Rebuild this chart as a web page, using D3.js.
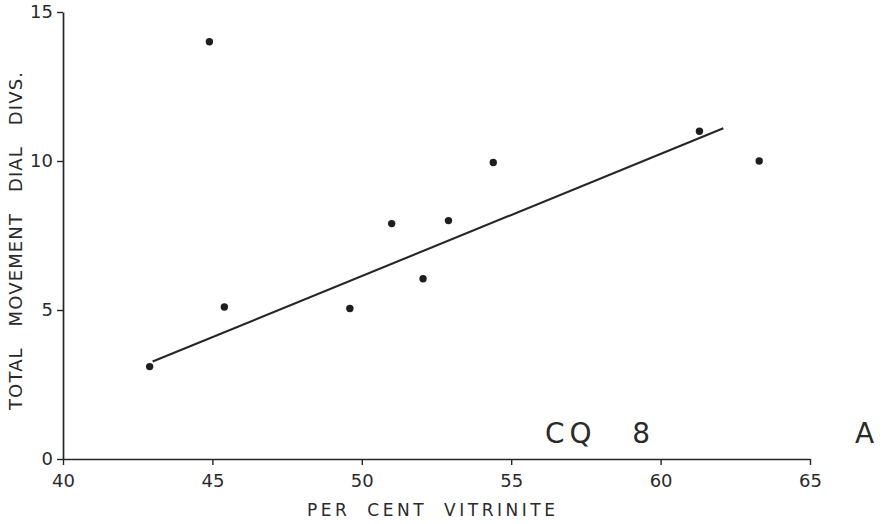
<!DOCTYPE html>
<html>
<head>
<meta charset="utf-8">
<script src="https://cdn.jsdelivr.net/npm/d3@7"></script>
<style>
  html, body { margin: 0; padding: 0; background: #fff; }
  svg { display: block; }
  text { font-family: "DejaVu Sans", "Liberation Sans", sans-serif; fill: #2a2a2a; }
</style>
</head>
<body>
<svg id="chart" width="883" height="524"></svg>
<script>
// Data
const vitrinite = [42.9, 44.9, 45.4, 49.6, 51.0, 52.05, 52.9, 54.4, 61.3, 63.3];
const movement  = [3.1, 14.0, 5.1, 5.05, 7.9, 6.05, 8.0, 9.95, 11.0, 10.0];
const fitLineX  = [43.0, 62.1];
const fitLineY  = [3.27, 11.1];
const xTicks = [40, 45, 50, 55, 60, 65];
const yTicks = [0, 5, 10, 15];
const xTitle = "PER CENT VITRINITE";
const yTitle = "TOTAL MOVEMENT DIAL DIVS.";
const sampleLabel = "CQ 8";
const panelLabel = "A";

const svg = d3.select("#chart");
const x = d3.scaleLinear().domain([40, 65]).range([63, 810]);
const y = d3.scaleLinear().domain([0, 15]).range([459, 12]);
const ink = "#262626";

// Axes
const xAxis = svg.append("g").attr("transform", `translate(0,${y(0)})`)
  .call(d3.axisBottom(x).tickValues(xTicks).tickSize(6).tickSizeOuter(0).tickPadding(9).tickFormat(d3.format("d")));
const yAxis = svg.append("g").attr("transform", `translate(${x(40)},0)`)
  .call(d3.axisLeft(y).tickValues(yTicks).tickSize(6).tickSizeOuter(0).tickPadding(4).tickFormat(d3.format("d")));

[xAxis, yAxis].forEach(g => {
  g.select(".domain").attr("stroke", ink).attr("stroke-width", 1.7);
  g.selectAll(".tick line").attr("stroke", ink).attr("stroke-width", 1.4);
  g.selectAll(".tick text").attr("font-size", 18).attr("fill", "#2a2a2a")
    .style("font-family", "\"DejaVu Sans\", sans-serif");
});

// Regression line
svg.append("path")
  .datum(fitLineX.map((d, i) => [d, fitLineY[i]]))
  .attr("d", d3.line().x(d => x(d[0])).y(d => y(d[1])))
  .attr("stroke", ink).attr("stroke-width", 2.1).attr("fill", "none");

// Points
svg.append("g").selectAll("circle")
  .data(vitrinite.map((d, i) => [d, movement[i]]))
  .join("circle")
  .attr("cx", d => x(d[0])).attr("cy", d => y(d[1]))
  .attr("r", 3.7).attr("fill", "#1e1e1e");

// Axis titles
svg.append("text")
  .attr("x", 307).attr("y", 516)
  .attr("font-size", 17)
  .attr("textLength", 248).attr("lengthAdjust", "spacing")
  .style("word-spacing", "8px")
  .text(xTitle);

svg.append("text")
  .attr("transform", "translate(22,410) rotate(-90)")
  .attr("x", 0).attr("y", 0)
  .attr("font-size", 18)
  .attr("textLength", 338).attr("lengthAdjust", "spacing")
  .style("word-spacing", "14px")
  .text(yTitle);

// Annotations
svg.append("text")
  .attr("x", 545).attr("y", 443)
  .attr("font-size", 28)
  .attr("textLength", 105).attr("lengthAdjust", "spacing")
  .style("word-spacing", "22px")
  .text(sampleLabel);

svg.append("text")
  .attr("x", 855).attr("y", 443)
  .attr("font-size", 28)
  .text(panelLabel);
</script>
</body>
</html>
